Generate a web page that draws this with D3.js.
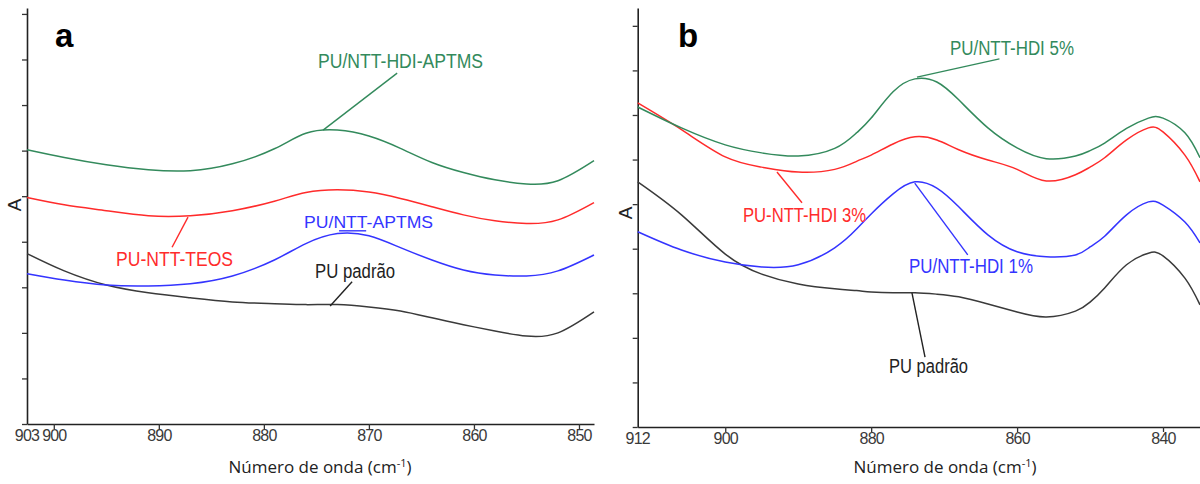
<!DOCTYPE html>
<html>
<head>
<meta charset="utf-8">
<script src="https://cdn.jsdelivr.net/npm/d3@7"></script>
<style>
  html, body { margin: 0; padding: 0; background: #fff; }
  svg { display: block; font-family: "Liberation Sans", Arial, sans-serif; }
</style>
</head>
<body>
<svg id="chart" width="1200" height="484"></svg>
<script>
// ---------- DATA (absorbance in arbitrary units) ----------
// Panel a
const wnA = [902.55, 899, 895, 891, 887, 883, 879, 876, 873, 870, 867, 864, 861, 858, 855, 852, 848.57];
const aHdiAptms = [6.02, 5.85, 5.69, 5.58, 5.56, 5.71, 6.04, 6.38, 6.45, 6.32, 6.05, 5.74, 5.52, 5.36, 5.27, 5.34, 5.78];
const aTeos     = [4.97, 4.81, 4.68, 4.57, 4.57, 4.68, 4.89, 5.08, 5.14, 5.09, 4.95, 4.77, 4.59, 4.46, 4.40, 4.48, 4.86];
const aAptms    = [3.30, 3.16, 3.05, 3.03, 3.08, 3.25, 3.60, 3.96, 4.18, 4.13, 3.87, 3.60, 3.38, 3.27, 3.25, 3.36, 3.71];
const aPadrao   = [3.74, 3.36, 3.05, 2.88, 2.77, 2.68, 2.64, 2.62, 2.62, 2.57, 2.48, 2.33, 2.18, 2.04, 1.93, 2.00, 2.46];
const ticksA = [900, 890, 880, 870, 860, 850];
const tickLabelsA = ["900", "890", "880", "870", "860", "850"];
const startLabelA = "903";

// Panel b
const wnB = [912, 906, 900, 895, 890, 885, 882, 880, 877, 874, 871, 868, 864, 860, 856, 852, 850, 848, 845, 842, 840, 837, 834.93];
const bHdi5   = [7.18, 6.71, 6.33, 6.15, 6.08, 6.25, 6.60, 6.93, 7.52, 7.81, 7.74, 7.34, 6.71, 6.26, 6.02, 6.08, 6.20, 6.37, 6.70, 6.93, 6.93, 6.60, 6.04];
const bHdi3   = [7.27, 6.67, 6.06, 5.83, 5.72, 5.78, 5.96, 6.10, 6.35, 6.51, 6.44, 6.22, 5.99, 5.78, 5.52, 5.66, 5.83, 6.04, 6.44, 6.71, 6.62, 6.10, 5.50];
const bHdi1   = [4.38, 3.97, 3.70, 3.59, 3.64, 4.02, 4.44, 4.78, 5.23, 5.50, 5.36, 4.94, 4.31, 3.93, 3.82, 3.86, 4.04, 4.28, 4.76, 5.05, 4.98, 4.60, 4.13];
const bPadrao = [5.50, 4.76, 3.88, 3.43, 3.21, 3.10, 3.06, 3.03, 3.01, 3.01, 2.98, 2.92, 2.76, 2.58, 2.47, 2.60, 2.80, 3.12, 3.64, 3.90, 3.84, 3.34, 2.74];
const ticksB = [900, 880, 860, 840];
const tickLabelsB = ["900", "880", "860", "840"];
const startLabelB = "912";

const yTickValues = [0, 1, 2, 3, 4, 5, 6, 7, 8, 9];
const xTitle = "Número de onda (cm";
const yTitle = "A";

// ---------- STYLE ----------
const GREEN = "#338a5c", RED = "#ff2b2b", BLUE = "#3434ff", BLACK = "#3a3a3a";

const svg = d3.select("#chart");

function panel(cfg) {
  const g = svg.append("g");
  const x = d3.scaleLinear().domain(cfg.xDomain).range(cfg.xRange);
  const y = d3.scaleLinear().domain(cfg.yDomain).range(cfg.yRange);

  // y axis
  const yAxis = d3.axisLeft(y).tickValues(yTickValues).tickFormat("").tickSize(5).tickSizeOuter(0);
  const ya = g.append("g").attr("transform", `translate(${cfg.xRange[0]},0)`).call(yAxis);
  ya.select(".domain").attr("stroke", "#222").attr("stroke-width", 1.6);
  ya.selectAll(".tick line").attr("stroke", "#333").attr("stroke-width", 1.3);

  // x axis
  const xAxis = d3.axisBottom(x).tickValues(cfg.ticks)
    .tickFormat((d, i) => cfg.tickLabels[i]).tickSize(5).tickSizeOuter(0);
  const xa = g.append("g").attr("transform", `translate(0,${cfg.yRange[0]})`).call(xAxis);
  xa.select(".domain").attr("stroke", "#222").attr("stroke-width", 1.6);
  xa.selectAll(".tick line").attr("stroke", "#333").attr("stroke-width", 1.3);
  xa.selectAll(".tick text").attr("font-size", 16).attr("fill", "#3a3a3a")
    .attr("dy", "0.62em").attr("y", 7).attr("letter-spacing", -0.8)
    .attr("font-family", "'Liberation Sans Narrow','Liberation Sans',Arial,sans-serif");
  // start-of-axis label
  xa.append("text").attr("x", x(cfg.xDomain[0])).attr("y", 7).attr("dy", "0.62em")
    .attr("text-anchor", "middle").attr("font-size", 16).attr("fill", "#3a3a3a")
    .attr("letter-spacing", -0.8)
    .attr("font-family", "'Liberation Sans Narrow','Liberation Sans',Arial,sans-serif")
    .text(cfg.startLabel);

  // x title
  const t = g.append("text").attr("x", cfg.titleX).attr("y", 473)
    .attr("text-anchor", "middle").attr("font-size", 17).attr("fill", "#222")
    .attr("font-family", "'Open Sans','Liberation Sans',sans-serif");
  t.append("tspan").text(xTitle);
  t.append("tspan").attr("font-size", 11).attr("dy", -6).text("-1");
  t.append("tspan").attr("dy", 6).text(")");

  // y title
  g.append("text").attr("transform", `translate(${cfg.yTitleX},${cfg.yTitleY}) rotate(-90)`)
    .attr("text-anchor", "middle").attr("dy", "0.35em").attr("font-size", 19).attr("fill", "#222")
    .text(yTitle);

  // panel letter
  g.append("text").attr("x", cfg.letterX).attr("y", 47).attr("font-size", 33)
    .attr("font-weight", "bold").attr("fill", "#000").text(cfg.letter);

  // curves
  const line = d3.line().x(d => x(d[0])).y(d => y(d[1])).curve(d3.curveNatural);
  cfg.series.forEach(s => {
    g.append("path").datum(cfg.wn.map((w, i) => [w, s.values[i]]))
      .attr("d", line).attr("fill", "none").attr("stroke", s.color).attr("stroke-width", 1.5);
  });

  // annotations
  cfg.notes.forEach(n => {
    if (n.lead) {
      g.append("line").attr("x1", x(n.lead[0])).attr("y1", y(n.lead[1]))
        .attr("x2", x(n.lead[2])).attr("y2", y(n.lead[3]))
        .attr("stroke", n.color).attr("stroke-width", 1.4);
    }
    g.append("text").attr("x", x(n.at[0])).attr("y", y(n.at[1]))
      .attr("font-size", n.size).attr("fill", n.color)
      .attr("textLength", n.width).attr("lengthAdjust", "spacingAndGlyphs")
      .text(n.text);
  });
}

panel({
  letter: "a", letterX: 55,
  xDomain: [902.55, 848.57], xRange: [27, 594],
  yDomain: [0, 9.13], yRange: [424, 8],
  ticks: ticksA, tickLabels: tickLabelsA, startLabel: startLabelA,
  titleX: 320, yTitleX: 14, yTitleY: 205,
  wn: wnA,
  series: [
    { values: aPadrao, color: BLACK },
    { values: aAptms, color: BLUE },
    { values: aTeos, color: RED },
    { values: aHdiAptms, color: GREEN }
  ],
  notes: [
    { text: "PU/NTT-HDI-APTMS", color: GREEN, at: [874.84, 7.81], width: 165, size: 20, lead: [867.31, 7.70, 874.36, 6.45] },
    { text: "PU-NTT-TEOS", color: RED, at: [894.07, 3.47], width: 117, size: 20, lead: [887.22, 4.54, 888.74, 3.88] },
    { text: "PU/NTT-APTMS", color: BLUE, at: [876.17, 4.30], width: 129, size: 17, lead: [872.84, 4.24, 870.26, 4.24] },
    { text: "PU padrão", color: "#222", at: [875.12, 3.20], width: 80, size: 20, lead: [871.60, 3.12, 873.69, 2.59] }
  ]
});

panel({
  letter: "b", letterX: 678,
  xDomain: [912, 834.93], xRange: [637.7, 1200],
  yDomain: [0, 9.40], yRange: [427, 8],
  ticks: ticksB, tickLabels: tickLabelsB, startLabel: startLabelB,
  titleX: 945, yTitleX: 625, yTitleY: 213,
  wn: wnB,
  series: [
    { values: bPadrao, color: BLACK },
    { values: bHdi1, color: BLUE },
    { values: bHdi3, color: RED },
    { values: bHdi5, color: GREEN }
  ],
  notes: [
    { text: "PU/NTT-HDI 5%", color: GREEN, at: [869.20, 8.35], width: 124, size: 20, lead: [862.42, 8.26, 873.72, 7.85] },
    { text: "PU-NTT-HDI 3%", color: RED, at: [897.57, 4.60], width: 123, size: 20, lead: [892.91, 5.72, 889.48, 5.03] },
    { text: "PU/NTT-HDI 1%", color: BLUE, at: [874.82, 3.46], width: 124, size: 20, lead: [874.03, 5.47, 866.76, 3.86] },
    { text: "PU padrão", color: "#222", at: [877.55, 1.21], width: 79, size: 20, lead: [874.41, 3.01, 872.62, 1.57] }
  ]
});
</script>
</body>
</html>
